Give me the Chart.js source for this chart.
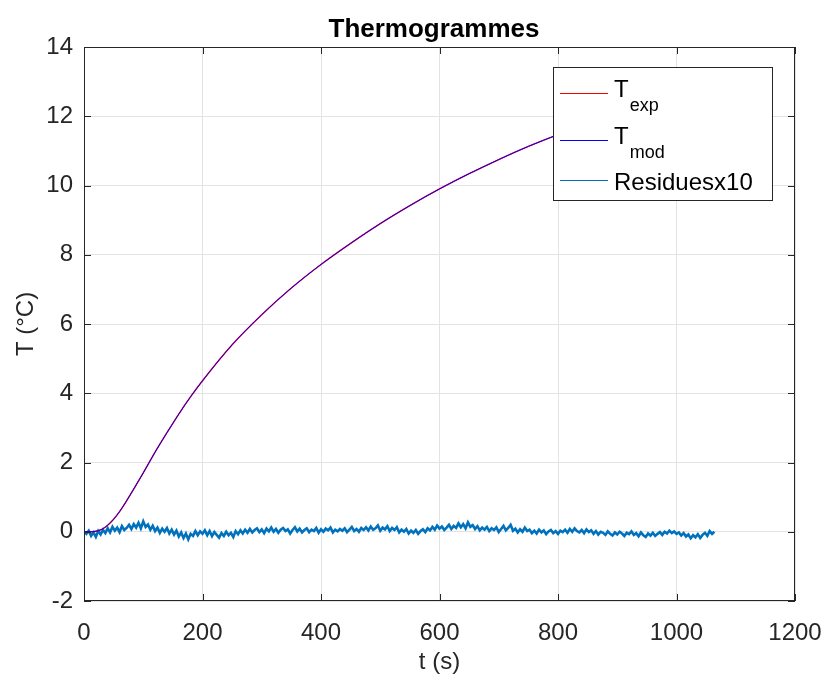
<!DOCTYPE html>
<html>
<head>
<meta charset="utf-8">
<title>Thermogrammes</title>
<script src="https://cdn.jsdelivr.net/npm/chart.js@4/dist/chart.umd.min.js"></script>
<style>
  html, body { margin: 0; padding: 0; background: #fff; }
  #wrap { width: 824px; height: 679px; }
</style>
</head>
<body>
<div id="wrap"><canvas id="thermo" width="824" height="679"></canvas></div>
<script>
// temperature rise (°C)
const tempTimes = [0, 10, 20, 30, 40, 50, 60, 70, 80, 90, 100, 120, 140, 160, 180, 200, 250, 300, 350, 400,
  450, 500, 550, 600, 650, 700, 750, 800, 850, 900, 950, 1000, 1064];
const tempExp = [0, 0, 0.015, 0.07, 0.19, 0.36, 0.58, 0.84, 1.12, 1.41, 1.7, 2.3, 2.86, 3.4, 3.9, 4.36, 5.4, 6.27, 7.04, 7.72,
  8.33, 8.9, 9.42, 9.9, 10.34, 10.75, 11.13, 11.47, 11.79, 12.08, 12.34, 12.58, 12.87];
const tempMod = [0, 0, 0.015, 0.07, 0.19, 0.36, 0.58, 0.84, 1.12, 1.41, 1.7, 2.3, 2.86, 3.4, 3.9, 4.36, 5.4, 6.27, 7.04, 7.72,
  8.33, 8.9, 9.42, 9.9, 10.34, 10.75, 11.13, 11.47, 11.79, 12.08, 12.34, 12.58, 12.87];

// residues x10, one sample every 4 s from t = 0
const residueStep = 4;
const residues = [
  0.00, -0.06, 0.03, -0.12, -0.02, -0.15, 0.02, -0.08, 0.05, -0.04,
  0.10, -0.02, 0.14, 0.03, 0.12, -0.01, 0.16, 0.05, 0.11, 0.20,
  0.08, 0.22, 0.12, 0.26, 0.10, 0.30, 0.14, 0.21, 0.06, 0.17,
  0.02, 0.12, -0.03, 0.09, 0.00, 0.11, -0.05, 0.06, -0.08, 0.03,
  -0.14, -0.02, -0.18, -0.05, -0.22, -0.06, -0.12, 0.02, -0.10, 0.01,
  -0.06, 0.04, -0.10, 0.02, -0.13, -0.01, -0.09, -0.17, -0.04, -0.12,
  0.00, -0.10, -0.03, -0.15, 0.02, -0.07, 0.04, -0.05, 0.06, -0.03,
  0.08, -0.02, 0.05, 0.10, -0.01, 0.07, -0.04, 0.09, 0.01, 0.12,
  0.00, 0.08, -0.03, 0.06, 0.11, 0.02, 0.07, -0.05, 0.05, 0.13,
  0.01, 0.09, -0.02, 0.05, 0.10, -0.01, 0.06, 0.02, 0.11, -0.03,
  0.07, 0.00, 0.09, 0.04, 0.12, -0.02, 0.06, 0.01, 0.08, 0.03,
  0.10, -0.01, 0.06, 0.14, 0.02, 0.08, 0.00, 0.11, 0.05, 0.13,
  0.04, 0.15, 0.06, 0.10, 0.18, 0.03, 0.12, 0.07, 0.16, 0.02,
  0.11, 0.05, 0.13, -0.02, 0.06, 0.00, 0.08, -0.05, 0.03, -0.03,
  0.05, -0.06, 0.02, 0.07, -0.01, 0.10, 0.04, 0.14, 0.06, 0.18,
  0.09, 0.15, 0.05, 0.12, 0.20, 0.08, 0.17, 0.11, 0.24, 0.13,
  0.22, 0.10, 0.27, 0.14, 0.19, 0.08, 0.16, 0.04, 0.12, 0.06,
  0.14, 0.02, 0.10, 0.05, 0.13, -0.01, 0.08, 0.17, 0.04, 0.11,
  0.20, 0.03, 0.09, -0.02, 0.07, 0.00, 0.12, 0.02, 0.06, -0.04,
  0.03, -0.05, 0.06, -0.02, 0.04, -0.07, 0.01, 0.05, -0.04, 0.02,
  -0.06, 0.03, -0.01, 0.06, -0.03, 0.08, 0.00, 0.10, 0.02, -0.02,
  0.05, -0.04, 0.07, -0.01, 0.04, -0.06, 0.02, -0.08, 0.00, -0.03,
  -0.09, 0.01, -0.06, -0.11, -0.02, -0.08, 0.00, -0.05, -0.12, -0.03,
  -0.07, 0.01, -0.09, -0.04, -0.13, -0.02, -0.10, -0.15, -0.05, -0.11,
  -0.03, -0.12, -0.06, -0.01, -0.09, 0.00, -0.05, 0.03, -0.04, 0.01,
  -0.06, -0.02, -0.11, -0.04, -0.14, -0.08, -0.19, -0.10, -0.16, -0.07,
  -0.18, -0.09, -0.03, -0.12, 0.02, -0.06, 0.00
];

const xTicks = [0, 200, 400, 600, 800, 1000, 1200];
const yTicks = [-2, 0, 2, 4, 6, 8, 10, 12, 14];

const legendMain = ['T', 'T', 'Residuesx10'];
const legendSub = ['exp', 'mod', ''];

const FONT = '"Liberation Sans", Arial, sans-serif';
const INK = '#262626';

const toXY = (xs, ys) => ys.map((v, i) => ({ x: xs[i], y: v }));
const residuePts = residues.map((v, i) => ({ x: i * residueStep, y: v }));

// MATLAB-like box, inward ticks, title and legend
const matlabDecor = {
  id: 'matlabDecor',
  afterDatasetsDraw(chart) {
    const { ctx, chartArea: a, scales } = chart;
    ctx.save();
    ctx.strokeStyle = INK;
    ctx.lineWidth = 1;
    ctx.strokeRect(a.left + 0.5, a.top + 0.5, a.right - a.left - 1, a.bottom - a.top - 1);
    const tl = 7;
    ctx.beginPath();
    xTicks.forEach(t => {
      const px = Math.round(scales.x.getPixelForValue(t)) + 0.5;
      ctx.moveTo(px, a.bottom); ctx.lineTo(px, a.bottom - tl);
      ctx.moveTo(px, a.top); ctx.lineTo(px, a.top + tl);
    });
    yTicks.forEach(t => {
      const py = Math.round(scales.y.getPixelForValue(t)) + 0.5;
      ctx.moveTo(a.left, py); ctx.lineTo(a.left + tl, py);
      ctx.moveTo(a.right, py); ctx.lineTo(a.right - tl, py);
    });
    ctx.stroke();
    ctx.restore();
  },
  afterDraw(chart) {
    const { ctx } = chart;
    ctx.save();
    // title
    ctx.fillStyle = '#000';
    ctx.font = 'bold 26px ' + FONT;
    ctx.textAlign = 'center';
    ctx.textBaseline = 'alphabetic';
    ctx.fillText('Thermogrammes', 434, 37);

    // legend
    const bx = 553.5, by = 67.5, bw = 219, bh = 133;
    ctx.fillStyle = '#fff';
    ctx.fillRect(bx, by, bw, bh);
    ctx.strokeStyle = INK;
    ctx.lineWidth = 1;
    ctx.strokeRect(bx, by, bw, bh);
    const rows = [93.5, 140.5, 180.5];
    const baselines = [97, 144, 190];
    chart.data.datasets.forEach((ds, i) => {
      ctx.strokeStyle = ds.borderColor;
      ctx.lineWidth = 1;
      ctx.beginPath();
      ctx.moveTo(560, rows[i]); ctx.lineTo(608, rows[i]);
      ctx.stroke();
      ctx.fillStyle = '#000';
      ctx.textAlign = 'left';
      ctx.font = '24px ' + FONT;
      ctx.fillText(legendMain[i], 614, baselines[i]);
      if (legendSub[i]) {
        const w = ctx.measureText(legendMain[i]).width;
        ctx.font = '18px ' + FONT;
        ctx.fillText(legendSub[i], 614 + w + 1, baselines[i] + 14);
      }
    });
    ctx.restore();
  }
};

new Chart(document.getElementById('thermo'), {
  type: 'line',
  data: {
    datasets: [
      {
        label: 'T_exp',
        data: toXY(tempTimes, tempExp),
        borderColor: '#ff0000',
        borderWidth: 1.4,
        pointRadius: 0,
        order: 1,
        cubicInterpolationMode: 'monotone'
      },
      {
        label: 'T_mod',
        data: toXY(tempTimes, tempMod),
        borderColor: '#0000ff',
        borderWidth: 1,
        pointRadius: 0,
        order: 0,
        cubicInterpolationMode: 'monotone'
      },
      {
        label: 'Residuesx10',
        data: residuePts,
        borderColor: '#0072bd',
        borderWidth: 2.6,
        pointRadius: 0,
        order: 2,
        tension: 0
      }
    ]
  },
  options: {
    responsive: false,
    animation: false,
    devicePixelRatio: 1,
    layout: { padding: { top: 47, right: 29, left: 0, bottom: 0 } },
    plugins: {
      legend: { display: false },
      title: { display: false },
      tooltip: { enabled: false }
    },
    scales: {
      x: {
        type: 'linear',
        min: 0,
        max: 1200,
        afterFit: s => { s.height = 78; s.paddingLeft = 0; s.paddingRight = 0; },
        afterBuildTicks: s => { s.ticks = xTicks.map(v => ({ value: v })); },
        grid: { color: '#e3e3e3', drawTicks: false },
        border: { display: false },
        ticks: { color: INK, font: { family: FONT, size: 24 }, padding: 18, maxRotation: 0, callback: v => String(v) },
        title: { display: true, text: 't (s)', color: INK, font: { family: FONT, size: 24 }, padding: { top: 0, bottom: 2 } }
      },
      y: {
        type: 'linear',
        min: -2,
        max: 14,
        afterFit: s => { s.width = 84; s.paddingTop = 0; s.paddingBottom = 0; },
        afterBuildTicks: s => { s.ticks = yTicks.map(v => ({ value: v })); },
        grid: { color: '#e3e3e3', drawTicks: false },
        border: { display: false },
        ticks: { color: INK, font: { family: FONT, size: 24 }, padding: 11, callback: v => String(v) },
        title: { display: true, text: 'T (°C)', color: INK, font: { family: FONT, size: 24 }, padding: { top: 12, bottom: 0 } }
      }
    }
  },
  plugins: [matlabDecor]
});
</script>
</body>
</html>
